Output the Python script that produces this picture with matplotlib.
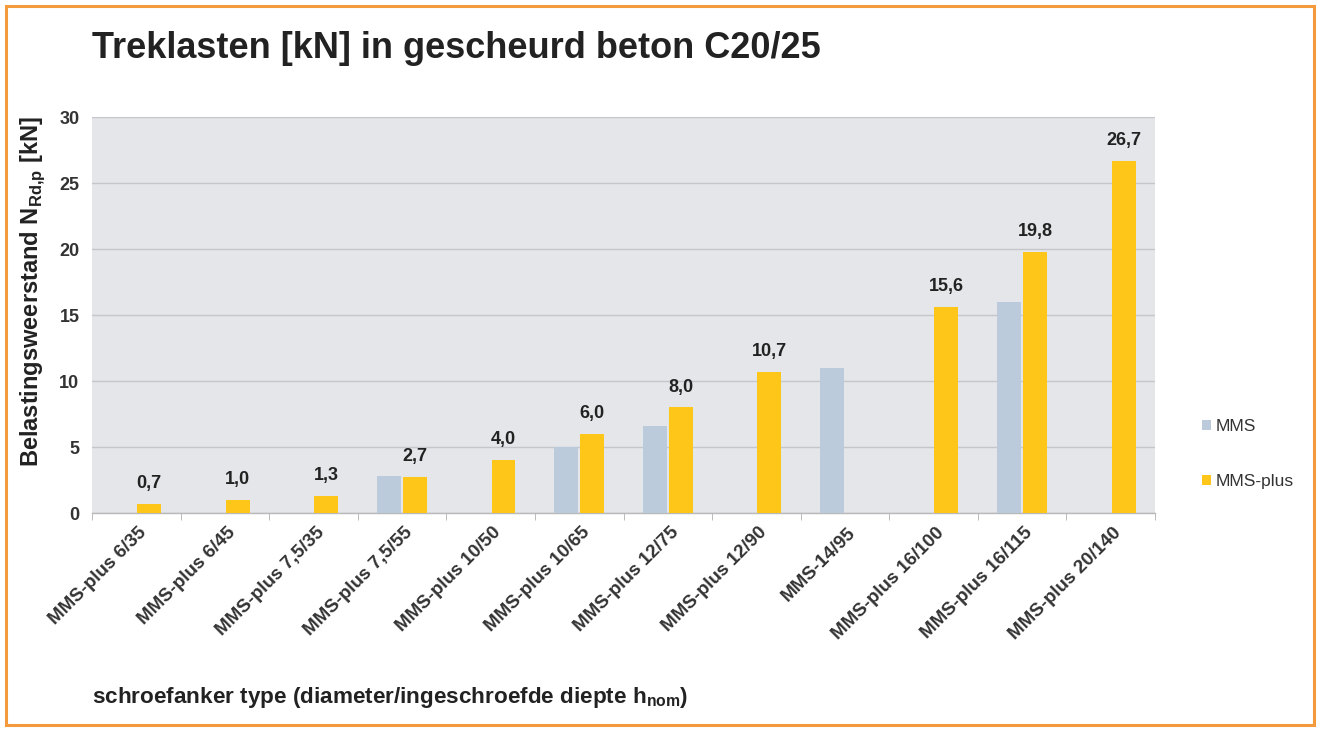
import numpy as np
import matplotlib
matplotlib.use("Agg")
import matplotlib.pyplot as plt
import matplotlib.transforms as mtransforms
from matplotlib.patches import Rectangle
from matplotlib.ticker import FixedLocator

plt.rcParams['font.family'] = ['Liberation Sans', 'DejaVu Sans']

categories = ["MMS-plus 6/35", "MMS-plus 6/45", "MMS-plus 7,5/35", "MMS-plus 7,5/55",
              "MMS-plus 10/50", "MMS-plus 10/65", "MMS-plus 12/75", "MMS-plus 12/90",
              "MMS-14/95", "MMS-plus 16/100", "MMS-plus 16/115", "MMS-plus 20/140"]
mms = [np.nan, np.nan, np.nan, 2.8, np.nan, 5.0, 6.6, np.nan, 11.0, np.nan, 16.0, np.nan]
mms_plus = [0.7, 1.0, 1.3, 2.7, 4.0, 6.0, 8.0, 10.7, np.nan, 15.6, 19.8, 26.7]
series_names = ["MMS", "MMS-plus"]
yticks = [0, 5, 10, 15, 20, 25, 30]

c_mms = "#bccbdc"
c_plus = "#fdc619"
txt = "#222222"

W, H = 1323, 731
fig = plt.figure(figsize=(W / 100, H / 100), dpi=100)
fig.patch.set_facecolor("white")
fig.add_artist(Rectangle((6 / W, 6 / H), 1 - 15 / W, 1 - 12 / H, transform=fig.transFigure,
                         fill=False, edgecolor="#f39a3c", linewidth=2.2))

ax = fig.add_axes([92 / W, 1 - 513 / H, (1155 - 92) / W, (513 - 117) / H])
ax.set_facecolor("#e4e6ea")

x = np.arange(len(categories))
bw = 0.27
ax.bar(x - bw / 2 - 0.01, mms, width=bw, color=c_mms, label=series_names[0], zorder=3)
ax.bar(x + bw / 2 + 0.01, mms_plus, width=bw, color=c_plus, label=series_names[1], zorder=3)
for xi, v in zip(x, mms_plus):
    if not np.isnan(v):
        ax.text(xi + bw / 2 + 0.01, v + 0.9, f"{v:.1f}".replace(".", ","), ha="center", va="bottom",
                fontsize=13, color=txt, fontweight="bold")

ax.set_xlim(-0.5, len(categories) - 0.5)
ax.set_ylim(0, 30)
ax.set_yticks(yticks)
ax.set_yticklabels([str(t) for t in yticks], fontsize=13, fontweight="bold", color="#333333")
ax.yaxis.grid(True, color="#c4c6c9", linewidth=1.0, zorder=0)
ax.tick_params(axis="y", length=0, pad=9)

ax.set_xticks(x)
ax.set_xticklabels(categories, rotation=45, ha="right", va="top", rotation_mode="anchor",
                   fontsize=13.5, fontweight="bold", color="#333333")
ax.tick_params(axis="x", which="major", length=0, pad=8)
ax.xaxis.set_minor_locator(FixedLocator(np.arange(-0.5, len(categories), 1.0)))
ax.tick_params(axis="x", which="minor", length=5, color="#b0b0b0", direction="out")
offset = mtransforms.ScaledTranslation(2 / 100, 0, fig.dpi_scale_trans)
for lbl in ax.get_xticklabels():
    lbl.set_transform(lbl.get_transform() + offset)

for s in ["top", "right", "left"]:
    ax.spines[s].set_visible(False)
ax.spines["bottom"].set_color("#b8b8b8")
ax.spines["bottom"].set_linewidth(1.0)

fig.text(92 / W, 1 - 48 / H, "Treklasten [kN] in gescheurd beton C20/25", fontsize=26,
         fontweight="bold", color=txt, va="center", ha="left")
fig.text(33 / W, 1 - 292 / H, r"Belastingsweerstand N$_{\mathregular{Rd{,}p}}$ [kN]", rotation=90,
         fontsize=17, fontweight="bold", color=txt, va="center", ha="center")
fig.text(92 / W, 1 - 697 / H, r"schroefanker type (diameter/ingeschroefde diepte h$_{\mathregular{nom}}$)",
         fontsize=16.2, fontweight="bold", color=txt, va="center", ha="left")

leg = fig.legend(loc="upper left", bbox_to_anchor=(1195 / W, 1 - 412 / H), frameon=False,
                 fontsize=12.5, handlelength=0.5, handleheight=0.5, handletextpad=0.3,
                 labelspacing=2.3, borderaxespad=0)
for t in leg.get_texts():
    t.set_color("#333333")

fig.savefig("out.png", dpi=100, facecolor="white")
